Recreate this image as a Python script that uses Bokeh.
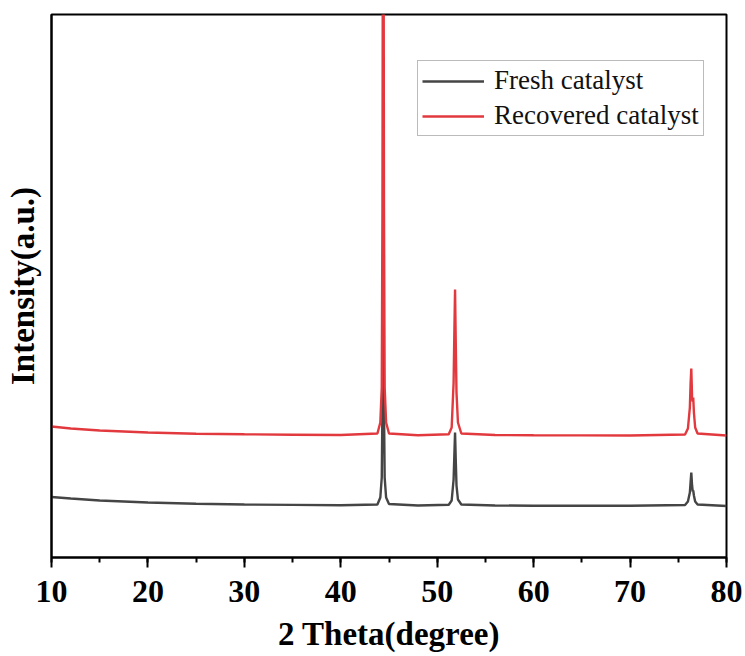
from bokeh.plotting import figure
from bokeh.models import Range1d, SingleIntervalTicker, FixedTicker, Legend, LegendItem
from bokeh.embed import file_html
from bokeh.resources import INLINE

# ---- data ----
two_theta = [10, 12, 15, 20, 25, 30, 35, 40, 43.8, 44.1, 44.25, 44.32, 44.4, 44.48, 44.55, 44.7, 45.0,
             48, 51.2, 51.5, 51.7, 51.77, 51.85, 51.93, 52.0, 52.15, 52.5, 56, 60, 65, 70,
             75.7, 76.0, 76.2, 76.28, 76.35, 76.43, 76.5, 76.55, 76.62, 76.75, 77.0, 80]

fresh = [605, 590, 570, 550, 537, 530, 526, 522, 530, 600, 800, 1500, 3200, 1500, 800, 600, 535,
         520, 528, 570, 780, 1000, 1250, 950, 720, 580, 530, 520, 518, 518, 517,
         525, 560, 650, 760, 850, 720, 660, 670, 620, 560, 530, 515]

recovered = [1310, 1290, 1270, 1250, 1238, 1232, 1228, 1225, 1240, 1350, 1700, 3500, 9000, 3500, 1700, 1350, 1240,
             1222, 1232, 1300, 1750, 2200, 2680, 2100, 1650, 1350, 1240, 1225, 1222, 1221, 1220,
             1230, 1290, 1500, 1750, 1890, 1600, 1560, 1600, 1450, 1300, 1240, 1220]

series_names = ["Fresh catalyst", "Recovered catalyst"]
series_colors = ["#454545", "#e2393e"]
x_title = "2 Theta(degree)"
y_title = "Intensity(a.u.)"

SERIF = "Liberation Serif"

p = figure(width=745, height=656, output_backend="svg", toolbar_location=None,
           x_range=Range1d(10, 80), y_range=Range1d(0, 5430),
           min_border_left=51, min_border_right=19, min_border_top=14, min_border_bottom=99)

r1 = p.line(two_theta, fresh, line_color=series_colors[0], line_width=2.4)
r2 = p.line(two_theta, recovered, line_color=series_colors[1], line_width=2.4)

p.xgrid.visible = False
p.ygrid.visible = False
p.outline_line_color = "black"
p.outline_line_width = 2
p.outline_line_alpha = 1

# x axis
xa = p.xaxis[0]
xa.ticker = SingleIntervalTicker(interval=10, num_minor_ticks=2)
xa.axis_line_width = 2
xa.axis_line_color = "black"
xa.major_tick_line_width = 2
xa.minor_tick_line_width = 2
xa.major_tick_out = 10
xa.major_tick_in = 0
xa.minor_tick_out = 5
xa.minor_tick_in = 0
xa.major_label_text_font = SERIF
xa.major_label_text_font_style = "bold"
xa.major_label_text_font_size = "32px"
xa.major_label_text_color = "black"
xa.major_label_standoff = 13
xa.axis_label = x_title
xa.axis_label_text_font = SERIF
xa.axis_label_text_font_style = "bold"
xa.axis_label_text_font_size = "33px"
xa.axis_label_text_color = "black"
xa.axis_label_standoff = 11

# y axis
ya = p.yaxis[0]
ya.ticker = FixedTicker(ticks=[])
ya.axis_line_width = 2
ya.axis_line_color = "black"
ya.major_tick_line_color = None
ya.minor_tick_line_color = None
ya.axis_label = y_title
ya.axis_label_text_font = SERIF
ya.axis_label_text_font_style = "bold"
ya.axis_label_text_font_size = "33px"
ya.axis_label_text_color = "black"
ya.axis_label_standoff = 11

legend = Legend(items=[LegendItem(label=series_names[0], renderers=[r1]),
                       LegendItem(label=series_names[1], renderers=[r2])],
                location=(366, 421))
legend.label_text_font = SERIF
legend.label_text_font_size = "27px"
legend.label_text_color = "#111111"
legend.glyph_width = 62
legend.glyph_height = 30
legend.label_height = 30
legend.label_standoff = 10
legend.spacing = 4
legend.padding = 4
legend.margin = 0
legend.border_line_color = "#777777"
legend.border_line_width = 1
legend.background_fill_alpha = 1
p.add_layout(legend, "center")

open("out.html", "w").write(file_html(p, INLINE))
